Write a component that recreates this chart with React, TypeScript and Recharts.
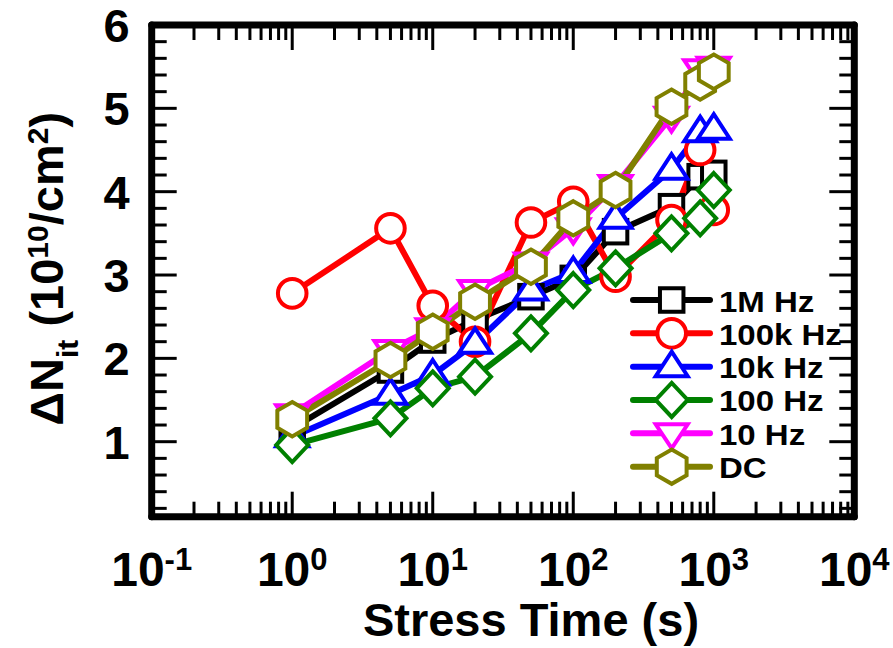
import React from 'react';
import { LineChart, Line, XAxis, YAxis, Legend } from 'recharts';

// ---- data ----
const TIMES = [1, 5, 10, 20, 50, 100, 200, 500, 800, 1000];
const F_1M = [1.16, 1.86, 2.22, 2.46, 2.74, 2.96, 3.52, 3.82, 4.18, 4.22];
const F_100K = [2.78, 3.56, 2.63, 2.2, 3.63, 3.88, 2.98, 3.66, 4.5, 3.78];
const F_10K = [1.06, 1.57, 1.8, 2.18, 2.82, 3.03, 3.68, 4.27, 4.72, 4.75];
const F_100 = [0.96, 1.28, 1.64, 1.78, 2.3, 2.82, 3.08, 3.5, 3.68, 4.02];
const F_10 = [1.33, 2.1, 2.36, 2.82, 3.15, 3.56, 4.08, 4.9, 5.47, 5.5];
const F_DC = [1.27, 1.98, 2.32, 2.68, 3.1, 3.68, 4.02, 5.02, 5.31, 5.44];

const SERIES_NAMES = ['1M Hz', '100k Hz', '10k Hz', '100 Hz', '10 Hz', 'DC'];

const X_MAJOR = [0.1, 1, 10, 100, 1000, 10000];
const X_EXP = ['-1', '0', '1', '2', '3', '4'];
const Y_MAJOR = [1, 2, 3, 4, 5, 6];
const Y_LABELS = ['1', '2', '3', '4', '5', '6'];

const X_TICKS: number[] = [];
X_MAJOR.forEach((m, i) => {
  X_TICKS.push(m);
  if (i < X_MAJOR.length - 1) for (let k = 2; k <= 9; k++) X_TICKS.push(Number((m * k).toPrecision(6)));
});
const Y_TICKS: number[] = [];
for (let k = 1; k <= 30; k++) Y_TICKS.push(Math.round(k * 2) / 10);

const data = TIMES.map((t, i) => ({
  t,
  s1M: F_1M[i],
  s100k: F_100K[i],
  s10k: F_10K[i],
  s100: F_100[i],
  s10: F_10[i],
  sDC: F_DC[i],
}));

type Shape = 'square' | 'circle' | 'up' | 'diamond' | 'down' | 'hex';
const SERIES: { key: string; name: string; color: string; shape: Shape }[] = [
  { key: 's1M', name: SERIES_NAMES[0], color: '#000000', shape: 'square' },
  { key: 's100k', name: SERIES_NAMES[1], color: '#ff0000', shape: 'circle' },
  { key: 's10k', name: SERIES_NAMES[2], color: '#0000ff', shape: 'up' },
  { key: 's100', name: SERIES_NAMES[3], color: '#008000', shape: 'diamond' },
  { key: 's10', name: SERIES_NAMES[4], color: '#ff00ff', shape: 'down' },
  { key: 'sDC', name: SERIES_NAMES[5], color: '#808000', shape: 'hex' },
];

// ---- styling ----
const FONT = '"Liberation Sans", Arial, Helvetica, sans-serif';
const MARK_SW = 4;
const LINE_SW = 6;
const MAJOR_LEN = 25;
const MINOR_LEN = 15;
const TICK_SW = 3;
const AXIS_LINE = { stroke: '#000', strokeWidth: 7, strokeLinecap: 'round' as const };

function hexPath(r: number) {
  const pts: string[] = [];
  for (let k = 0; k < 6; k++) {
    const a = (Math.PI / 180) * (-90 + 60 * k);
    pts.push(`${(r * Math.cos(a)).toFixed(2)},${(r * Math.sin(a)).toFixed(2)}`);
  }
  return 'M' + pts.join('L') + 'Z';
}

function Marker({ cx, cy, shape, color }: { cx: number; cy: number; shape: Shape; color: string }) {
  if (cx == null || cy == null || isNaN(cx) || isNaN(cy)) return <g />;
  const common = { fill: '#fff', stroke: color, strokeWidth: MARK_SW, strokeLinejoin: 'miter' as const };
  let el: React.ReactNode = null;
  switch (shape) {
    case 'square':
      el = <rect x={-11.75} y={-11.75} width={23.5} height={23.5} {...common} />;
      break;
    case 'circle':
      el = <circle r={14.3} {...common} />;
      break;
    case 'up':
      el = <path d="M0,-15L16,9.5L-16,9.5Z" {...common} />;
      break;
    case 'diamond':
      el = <path d="M0,-17L16,0L0,17L-16,0Z" {...common} />;
      break;
    case 'down':
      el = <path d="M-16,-9L16,-9L0,15Z" {...common} />;
      break;
    case 'hex':
      el = <path d={hexPath(17.2)} {...common} />;
      break;
  }
  return <g transform={`translate(${cx},${cy})`}>{el}</g>;
}

function isMajor(v: number, list: number[]) {
  return list.findIndex((m) => Math.abs(m - v) <= Math.abs(m) * 1e-6);
}

function BottomTick(props: any) {
  const { x, y, payload } = props;
  const v = payload.value;
  const idx = isMajor(v, X_MAJOR);
  const len = idx >= 0 ? MAJOR_LEN : MINOR_LEN;
  return (
    <g>
      <line x1={x} y1={y} x2={x} y2={y - len} stroke="#000" strokeWidth={TICK_SW} />
      {idx >= 0 && (
        <text x={x} y={y + 69} textAnchor="middle" fontFamily={FONT} fontWeight="bold" fontSize={48} fill="#000">
          <tspan>10</tspan>
          <tspan dy={-16} fontSize={31}>{X_EXP[idx]}</tspan>
        </text>
      )}
    </g>
  );
}

function TopTick(props: any) {
  const { x, y, payload } = props;
  const idx = isMajor(payload.value, X_MAJOR);
  const len = idx >= 0 ? MAJOR_LEN : MINOR_LEN;
  return <line x1={x} y1={y} x2={x} y2={y + len} stroke="#000" strokeWidth={TICK_SW} />;
}

function LeftTick(props: any) {
  const { x, y, payload } = props;
  const idx = isMajor(payload.value, Y_MAJOR);
  const len = idx >= 0 ? MAJOR_LEN : MINOR_LEN;
  return (
    <g>
      <line x1={x} y1={y} x2={x + len} y2={y} stroke="#000" strokeWidth={TICK_SW} />
      {idx >= 0 && (
        <text x={x - 22} y={y} dy={17} textAnchor="end" fontFamily={FONT} fontWeight="bold" fontSize={47} fill="#000">
          {Y_LABELS[idx]}
        </text>
      )}
    </g>
  );
}

function RightTick(props: any) {
  const { x, y, payload } = props;
  const idx = isMajor(payload.value, Y_MAJOR);
  const len = idx >= 0 ? MAJOR_LEN : MINOR_LEN;
  return <line x1={x} y1={y} x2={x - len} y2={y} stroke="#000" strokeWidth={TICK_SW} />;
}

function XLabel(props: any) {
  const vb = props.viewBox || { x: 151.7, y: 516.7, width: 702.6, height: 131.3 };
  const cx = vb.x + vb.width / 2 + 28;
  const cy = vb.y + 119.3;
  return (
    <text x={cx} y={cy} textAnchor="middle" fontFamily={FONT} fontWeight="bold" fontSize={47} fill="#000">
      Stress Time (s)
    </text>
  );
}

function YLabel(props: any) {
  const vb = props.viewBox || { x: 0, y: 25, width: 151.7, height: 491.7 };
  const cx = vb.x + 63;
  const cy = vb.y + vb.height / 2 - 2;
  return (
    <text
      x={cx}
      y={cy}
      transform={`rotate(-90, ${cx}, ${cy})`}
      textAnchor="middle"
      fontFamily={FONT}
      fontWeight="bold"
      fontSize={47}
      fill="#000"
    >
      <tspan>ΔN</tspan>
      <tspan dy={15} fontSize={30}>it</tspan>
      <tspan dy={-15}> (10</tspan>
      <tspan dy={-15} fontSize={30}>10</tspan>
      <tspan dy={15}>/cm</tspan>
      <tspan dy={-15} fontSize={30}>2</tspan>
      <tspan dy={15}>)</tspan>
    </text>
  );
}

function LegendBox() {
  return (
    <svg width={260} height={200} style={{ overflow: 'visible', display: 'block' }}>
      {SERIES.map((s, i) => {
        const cy = 22 + 33.33 * i;
        return (
          <g key={s.key}>
            <line x1={5} y1={cy} x2={82} y2={cy} stroke={s.color} strokeWidth={LINE_SW} strokeLinecap="round" />
            <Marker cx={43.7} cy={cy} shape={s.shape} color={s.color} />
            <text
              transform={`translate(91, ${cy + 11.5}) scale(1.1, 1)`}
              fontFamily={FONT}
              fontWeight="bold"
              fontSize={30}
              fill="#000"
            >
              {s.name}
            </text>
          </g>
        );
      })}
    </svg>
  );
}

export default function App() {
  return (
    <div style={{ position: 'absolute', left: 0, top: 0, width: 893, height: 648 }}>
      <LineChart width={893} height={648} data={data} margin={{ top: 24, right: 37.7, bottom: 0, left: 0 }}>
        <XAxis
          xAxisId="b"
          dataKey="t"
          type="number"
          scale="log"
          domain={[0.1, 10000]}
          allowDataOverflow
          ticks={X_TICKS}
          interval={0}
          tickSize={0}
          tickMargin={0}
          tickLine={false}
          axisLine={AXIS_LINE}
          height={131.3}
          tick={(p: any) => <BottomTick {...p} />}
          label={<XLabel />}
        />
        <XAxis
          xAxisId="t"
          orientation="top"
          dataKey="t"
          type="number"
          scale="log"
          domain={[0.1, 10000]}
          allowDataOverflow
          ticks={X_TICKS}
          interval={0}
          tickSize={0}
          tickMargin={0}
          tickLine={false}
          axisLine={AXIS_LINE}
          height={1}
          tick={(p: any) => <TopTick {...p} />}
        />
        <YAxis
          yAxisId="l"
          type="number"
          domain={[0.1, 6]}
          allowDataOverflow
          ticks={Y_TICKS}
          interval={0}
          tickSize={0}
          tickMargin={0}
          tickLine={false}
          axisLine={AXIS_LINE}
          width={151.7}
          tick={(p: any) => <LeftTick {...p} />}
          label={<YLabel />}
        />
        <YAxis
          yAxisId="r"
          orientation="right"
          type="number"
          domain={[0.1, 6]}
          allowDataOverflow
          ticks={Y_TICKS}
          interval={0}
          tickSize={0}
          tickMargin={0}
          tickLine={false}
          axisLine={AXIS_LINE}
          width={1}
          tick={(p: any) => <RightTick {...p} />}
        />
        {SERIES.map((s) => (
          <Line
            key={s.key}
            xAxisId="b"
            yAxisId="l"
            type="linear"
            dataKey={s.key}
            name={s.name}
            stroke={s.color}
            strokeWidth={LINE_SW}
            strokeLinejoin="round"
            isAnimationActive={false}
            activeDot={false}
            dot={(p: any) => <Marker key={`${s.key}-${p.index}`} cx={p.cx} cy={p.cy} shape={s.shape} color={s.color} />}
          />
        ))}
        <Legend
          layout="vertical"
          align="center"
          verticalAlign="middle"
          wrapperStyle={{ left: 628, top: 278, width: 260, height: 200 }}
          content={() => <LegendBox />}
        />
      </LineChart>
    </div>
  );
}
